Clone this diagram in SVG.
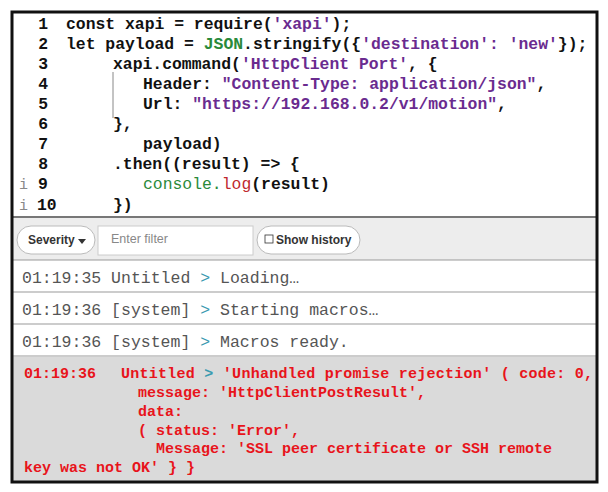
<svg xmlns="http://www.w3.org/2000/svg" width="608" height="492" viewBox="0 0 608 492">
<style>
.code{font-family:"Liberation Mono",monospace;font-size:16.4px;font-weight:bold;fill:#111}
.num{font-family:"Liberation Mono",monospace;font-size:16.4px;font-weight:bold;fill:#111;text-anchor:end}
.s{fill:#6a2b8f}.g{fill:#2a8a3a}.r{fill:#c0282e}
.ii{font-family:"Liberation Mono",monospace;font-size:15px;fill:#888}
.ui{font-family:"Liberation Sans",Arial,sans-serif;font-size:12px;font-weight:bold;fill:#333}
.log{font-family:"Liberation Mono",monospace;font-size:16.5px;fill:#555}
.ar{fill:#3a9ab0}
.err{font-family:"Liberation Mono",monospace;font-size:15px;font-weight:bold;fill:#e8141b}
</style>
<rect x="0" y="0" width="608" height="492" fill="#fff"/>
<g id="code">
<rect x="12" y="12" width="585" height="205" fill="#fff"/>
<line x1="113" y1="72" x2="113" y2="118" stroke="#888" stroke-width="1"/>
<text class="num" x="48" y="29">1</text><text class="code" x="66" y="29">const xapi = require(<tspan class="s">'xapi'</tspan>);</text>
<text class="num" x="48" y="49">2</text><text class="code" x="66" y="49">let payload = <tspan class="g">JSON</tspan>.stringify({<tspan class="s">'destination': 'new'</tspan>});</text>
<text class="num" x="48" y="69">3</text><text class="code" x="113" y="69">xapi.command(<tspan class="s">'HttpClient Port'</tspan>, {</text>
<text class="num" x="48" y="89">4</text><text class="code" x="143" y="89">Header: <tspan class="s">"Content-Type: application/json"</tspan>,</text>
<text class="num" x="48" y="109">5</text><text class="code" x="143" y="109">Url: <tspan class="s">"https://192.168.0.2/v1/motion"</tspan>,</text>
<text class="num" x="48" y="129">6</text><text class="code" x="113" y="129">},</text>
<text class="num" x="48" y="149">7</text><text class="code" x="143" y="149">payload)</text>
<text class="num" x="48" y="169">8</text><text class="code" x="113" y="169">.then((result) =&gt; {</text>
<text class="ii" x="19" y="189">i</text><text class="code" x="38" y="189">9</text><text class="code" x="143" y="189"><tspan class="g" font-weight="normal">console.</tspan><tspan class="r" font-weight="normal">log</tspan>(result)</text>
<text class="ii" x="19" y="210">i</text><text class="code" x="37" y="210">10</text><text class="code" x="113" y="210">})</text>
</g>
<g id="toolbar">
<rect x="12" y="217" width="585" height="43" fill="#ededed"/>
<line x1="12" y1="217" x2="597" y2="217" stroke="#777" stroke-width="2"/>
<rect x="17" y="226" width="78" height="28" rx="14" fill="#fff" stroke="#bbb"/>
<text class="ui" x="28" y="244">Severity</text><path d="M78 239 L86 239 L82 244 Z" fill="#333"/>
<rect x="98" y="226" width="155" height="29" fill="#fff" stroke="#ccc"/>
<text x="111" y="243" font-family="Liberation Sans,Arial,sans-serif" font-size="12.5" fill="#888">Enter filter</text>
<rect x="257" y="226" width="103" height="28" rx="14" fill="#fff" stroke="#bbb"/>
<rect x="265" y="235" width="8" height="8" fill="none" stroke="#333" stroke-width="0.8"/>
<text class="ui" x="276" y="244">Show history</text>
</g>
<g id="logs">
<rect x="12" y="260" width="585" height="97" fill="#fff"/>
<line x1="12" y1="260" x2="597" y2="260" stroke="#999"/>
<line x1="12" y1="292" x2="597" y2="292" stroke="#999"/>
<line x1="12" y1="324" x2="597" y2="324" stroke="#999"/>
<line x1="12" y1="356" x2="597" y2="356" stroke="#999"/>
<text class="log" x="22" y="283">01:19:35 Untitled <tspan class="ar">&gt;</tspan> Loading…</text>
<text class="log" x="22" y="315">01:19:36 [system] <tspan class="ar">&gt;</tspan> Starting macros…</text>
<text class="log" x="22" y="347">01:19:36 [system] <tspan class="ar">&gt;</tspan> Macros ready.</text>
</g>
<g id="error">
<rect x="12" y="357" width="585" height="125" fill="#dadada"/>
<text class="err" x="24" y="378" font-size="16">01:19:36</text>
<text class="err" x="121" y="378" textLength="472">Untitled <tspan class="ar">&gt;</tspan> 'Unhandled promise rejection' ( code: 0,</text>
<text class="err" x="138" y="397">message: 'HttpClientPostResult',</text>
<text class="err" x="138" y="416">data:</text>
<text class="err" x="138" y="435">( status: 'Error',</text>
<text class="err" x="156" y="453">Message: 'SSL peer certificate or SSH remote</text>
<text class="err" x="24" y="472">key was not OK' } }</text>
</g>
<rect x="12" y="12" width="585" height="470" fill="none" stroke="#111" stroke-width="3"/>
</svg>
